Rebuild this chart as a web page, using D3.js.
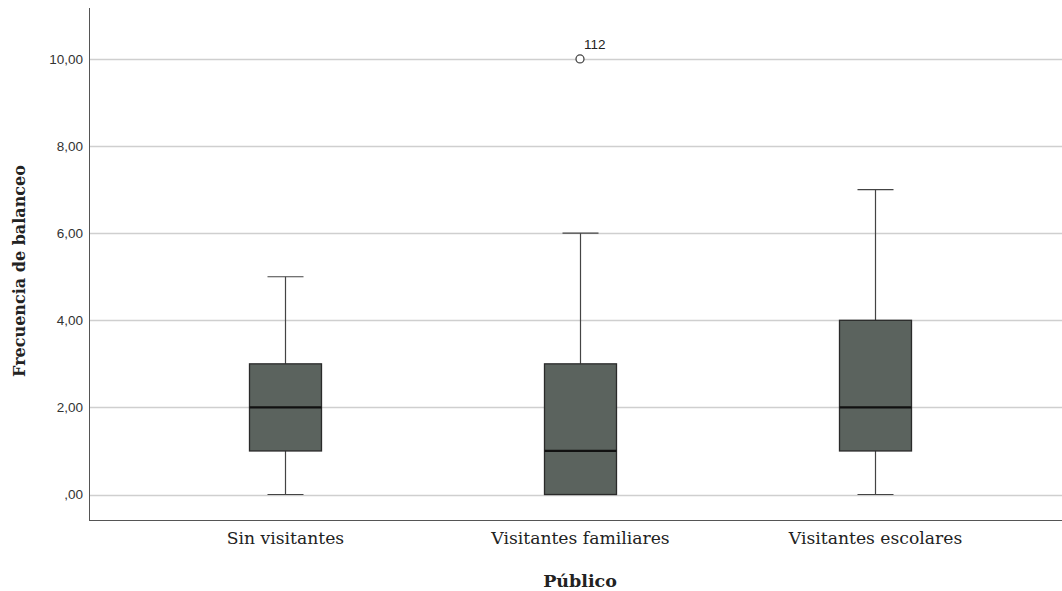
<!DOCTYPE html>
<html><head><meta charset="utf-8">
<script src="https://cdn.jsdelivr.net/npm/d3@7"></script>
<style>body{margin:0;background:#fff}svg{display:block}</style>
</head><body>
<svg id="c" width="1062" height="591"></svg>
<script>
const categories = ["Sin visitantes", "Visitantes familiares", "Visitantes escolares"];
const mins    = [0, 0, 0];
const q1s     = [1, 0, 1];
const medians = [2, 1, 2];
const q3s     = [3, 3, 4];
const maxs    = [5, 6, 7];
const outlierCats   = ["Visitantes familiares"];
const outlierVals   = [10];
const outlierLabels = ["112"];
const yTicks = [0, 2, 4, 6, 8, 10];
const yTickLabels = [",00", "2,00", "4,00", "6,00", "8,00", "10,00"];

(function () {
const svg = d3.select("#c");
const pL = 89, pB = 520, pT = 8, pR = 1062;
const y = d3.scaleLinear().domain([-0.585, 11.17]).range([pB, pT]);
const x = d3.scalePoint().domain(categories).range([pL, 1071]).padding(0.664);

// gridlines
svg.append("g").selectAll("line").data(yTicks).join("line")
  .attr("x1", pL).attr("x2", pR)
  .attr("y1", d => Math.round(y(d)) + 0.5).attr("y2", d => Math.round(y(d)) + 0.5)
  .attr("stroke", "#cfcfcf").attr("stroke-width", 1.5);

// y axis
const yAxis = d3.axisLeft(y).tickValues(yTicks).tickSize(0).tickPadding(6)
  .tickFormat((d, i) => yTickLabels[i]);
const gy = svg.append("g").attr("transform", `translate(${pL},0)`).call(yAxis);
gy.select(".domain").remove();
gy.selectAll("text").attr("font-family", "Arial, 'Liberation Sans', sans-serif")
  .attr("font-size", 13.5).attr("fill", "#333");
svg.append("line").attr("x1", pL + 0.5).attr("x2", pL + 0.5).attr("y1", pT).attr("y2", pB)
  .attr("stroke", "#555").attr("stroke-width", 1);

// x axis
const xAxis = d3.axisBottom(x).tickSize(0).tickPadding(16);
const gx = svg.append("g").attr("transform", `translate(0,${pB})`).call(xAxis);
gx.select(".domain").remove();
gx.selectAll("text").attr("font-family", "'DejaVu Serif', serif")
  .attr("font-size", 17.2).attr("fill", "#222").attr("dy", "0.45em");
svg.append("line").attr("x1", pL).attr("x2", pR).attr("y1", pB + 0.5).attr("y2", pB + 0.5)
  .attr("stroke", "#555").attr("stroke-width", 1);

// titles
svg.append("text").attr("x", x("Visitantes familiares")).attr("y", 587)
  .attr("text-anchor", "middle").attr("font-family", "'DejaVu Serif', serif")
  .attr("font-weight", "bold").attr("font-size", 17.5).attr("fill", "#222").text("Público");
svg.append("text").attr("transform", `translate(25,271) rotate(-90)`)
  .attr("text-anchor", "middle").attr("font-family", "'DejaVu Serif', serif")
  .attr("font-weight", "bold").attr("font-size", 16).attr("fill", "#222").text("Frecuencia de balanceo");

// boxes
const bw = 72, cw = 36;
const g = svg.append("g");
categories.forEach((c, i) => {
  const cx = Math.round(x(c)) + 0.5;
  const gg = g.append("g");
  const wl = (y1, y2) => gg.append("line").attr("x1", cx).attr("x2", cx).attr("y1", y1).attr("y2", y2)
    .attr("stroke", "#444").attr("stroke-width", 1.2);
  wl(y(maxs[i]), y(q3s[i]));
  wl(y(q1s[i]), y(mins[i]));
  [maxs[i], mins[i]].forEach(v => gg.append("line").attr("x1", cx - cw / 2).attr("x2", cx + cw / 2)
    .attr("y1", y(v)).attr("y2", y(v)).attr("stroke", "#444").attr("stroke-width", 1.2));
  gg.append("rect").attr("x", cx - bw / 2).attr("width", bw)
    .attr("y", y(q3s[i])).attr("height", y(q1s[i]) - y(q3s[i]))
    .attr("fill", "#5b635e").attr("stroke", "#2a2a2a").attr("stroke-width", 1.3);
  gg.append("line").attr("x1", cx - bw / 2).attr("x2", cx + bw / 2).attr("y1", y(medians[i])).attr("y2", y(medians[i]))
    .attr("stroke", "#111").attr("stroke-width", 2.2);
});

// outliers
outlierVals.forEach((v, i) => {
  const cx = x(outlierCats[i]);
  g.append("circle").attr("cx", cx).attr("cy", y(v)).attr("r", 4)
    .attr("fill", "#fff").attr("stroke", "#444").attr("stroke-width", 1.3);
  g.append("text").attr("x", cx + 4).attr("y", y(v) - 10)
    .attr("font-family", "Arial, 'Liberation Sans', sans-serif").attr("font-size", 13.5).attr("fill", "#222")
    .text(outlierLabels[i]);
});
})();
</script>
</body></html>
